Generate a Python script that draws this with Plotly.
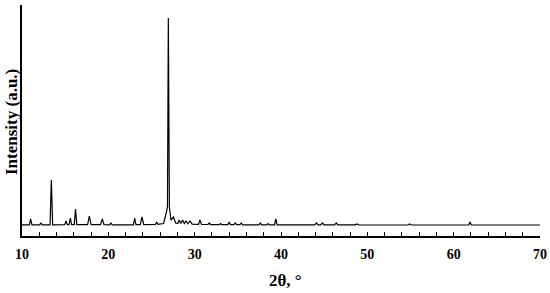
import plotly.graph_objects as go

# XRD pattern, points (2theta in degrees, intensity in a.u.)
two_theta = [
    10.0, 10.85, 11.0, 11.15, 12.05, 12.2, 12.35, 13.25, 13.4, 13.55,
    14.95, 15.1, 15.25, 15.45, 15.6, 15.75, 16.05, 16.2, 16.35,
    17.6, 17.8, 18.0, 19.1, 19.3, 19.5, 20.15, 20.3, 20.45,
    22.9, 23.05, 23.2, 23.7, 23.9, 24.1, 25.45, 25.6, 25.75,
    26.4, 26.7, 26.85, 26.95, 27.07, 27.25, 27.55, 27.8,
    28.05, 28.2, 28.4, 28.6, 28.8, 29.0, 29.2, 29.45, 29.7,
    30.45, 30.6, 30.8, 31.55, 31.7, 31.85, 32.85, 33.0, 33.15,
    33.85, 34.0, 34.15, 34.55, 34.7, 34.85, 35.25, 35.4, 35.55,
    37.45, 37.6, 37.75, 38.35, 38.5, 38.65, 39.25, 39.4, 39.55,
    43.9, 44.1, 44.3, 44.6, 44.8, 45.0, 46.2, 46.4, 46.6,
    48.6, 48.8, 49.0, 54.7, 54.9, 55.1, 61.75, 61.9, 62.05, 70.0,
]
intensity = [
    122, 122, 180, 122, 122, 140, 122, 122, 570, 122,
    124, 160, 124, 124, 190, 124, 124, 280, 124,
    124, 210, 124, 123, 180, 123, 122, 140, 122,
    122, 190, 123, 123, 200, 124, 125, 150, 126,
    135, 240, 300, 2190, 300, 170, 200, 140,
    135, 170, 135, 170, 135, 160, 132, 160, 128,
    127, 170, 126, 125, 140, 124, 123, 135, 123,
    123, 150, 123, 123, 140, 123, 123, 140, 122,
    122, 140, 122, 122, 135, 122, 122, 180, 122,
    121, 140, 121, 121, 140, 121, 121, 140, 121,
    121, 130, 121, 120, 130, 120, 120, 150, 120, 120,
]

x_ticks = list(range(10, 71, 2))
x_labels = [str(v) if v % 10 == 0 else "" for v in x_ticks]

font = dict(family="Liberation Serif", color="black", weight="bold")

fig = go.Figure()
fig.add_trace(go.Scatter(
    x=two_theta, y=intensity, mode="lines",
    line=dict(color="black", width=1.2), showlegend=False,
))

fig.update_xaxes(
    range=[10, 70], showline=True, linecolor="black", linewidth=1.5,
    showgrid=False, zeroline=False, automargin=False,
    tickvals=x_ticks, ticktext=x_labels, ticks="inside", ticklen=4,
    tickcolor="black", tickwidth=1, ticklabelstandoff=4,
    tickfont=dict(size=14, **font),
)
fig.update_yaxes(
    range=[10, 2320], showline=True, linecolor="black", linewidth=1.5,
    showgrid=False, zeroline=False, showticklabels=False, ticks="",
    automargin=False,
)
fig.add_annotation(
    text="Intensity (a.u.)", textangle=-90, xref="paper", yref="paper",
    x=0, y=0.5, xanchor="right", yanchor="middle", xshift=0, yshift=-2,
    borderpad=0, showarrow=False, font=dict(size=17, **font),
)
fig.add_annotation(
    text="2θ, °", xref="paper", yref="paper",
    x=0.5, y=0, xanchor="center", yanchor="middle", xshift=4, yshift=-44,
    showarrow=False, font=dict(size=17, **font),
)

fig.update_layout(
    width=550, height=293,
    margin=dict(l=22, r=10, t=5, b=57, autoexpand=False),
    plot_bgcolor="white", paper_bgcolor="white",
)

# the page body has a default 8px margin; drop it so the figure fills the window
fig.write_html(
    "out.html",
    config={"displayModeBar": False},
    post_script="document.body.style.margin='0';",
)
